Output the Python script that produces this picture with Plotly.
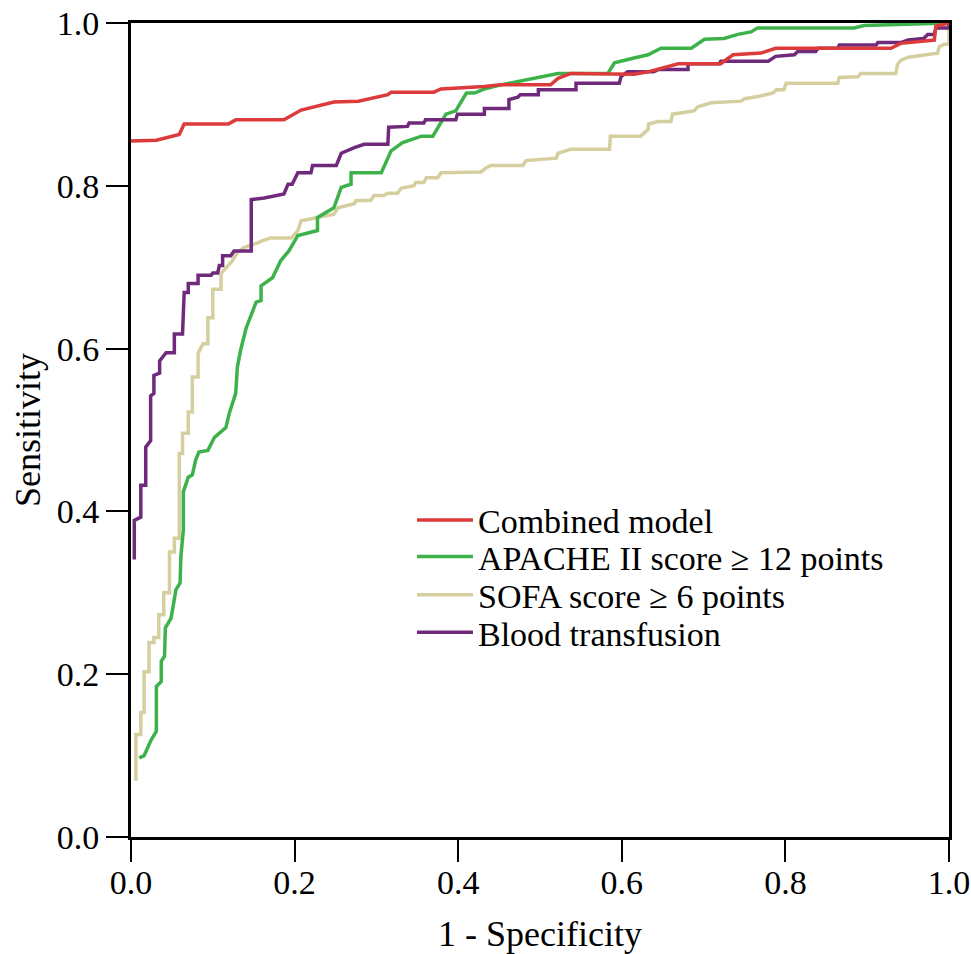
import plotly.graph_objects as go

# ROC curve vertices (1 - specificity, sensitivity)
combined_model = [
    (0.000, 0.855), (0.031, 0.856), (0.059, 0.863), (0.065, 0.876), (0.119, 0.876),
    (0.128, 0.881), (0.187, 0.881), (0.208, 0.893), (0.248, 0.903), (0.278, 0.904),
    (0.314, 0.912), (0.318, 0.915), (0.370, 0.915), (0.379, 0.919), (0.432, 0.922),
    (0.452, 0.924), (0.513, 0.924), (0.522, 0.932), (0.538, 0.938), (0.615, 0.937),
    (0.632, 0.940), (0.669, 0.950), (0.721, 0.950), (0.736, 0.961), (0.770, 0.963),
    (0.788, 0.969), (0.831, 0.969), (0.929, 0.969), (0.941, 0.975), (0.982, 0.979),
    (0.984, 0.996), (1.000, 1.000),
]

apache_ii = [
    (0.010, 0.097), (0.016, 0.100), (0.024, 0.118), (0.031, 0.130), (0.031, 0.185),
    (0.037, 0.191), (0.037, 0.216), (0.041, 0.222), (0.042, 0.257), (0.049, 0.269),
    (0.055, 0.304), (0.060, 0.312), (0.061, 0.345), (0.064, 0.377), (0.064, 0.424),
    (0.070, 0.442), (0.075, 0.445), (0.079, 0.463), (0.083, 0.473), (0.094, 0.475),
    (0.102, 0.491), (0.116, 0.503), (0.120, 0.520), (0.128, 0.545), (0.130, 0.577),
    (0.134, 0.598), (0.141, 0.626), (0.153, 0.657), (0.159, 0.659), (0.159, 0.677),
    (0.173, 0.687), (0.183, 0.708), (0.193, 0.720), (0.204, 0.739), (0.228, 0.745),
    (0.228, 0.761), (0.248, 0.773), (0.257, 0.798), (0.269, 0.802), (0.269, 0.816),
    (0.306, 0.816), (0.318, 0.843), (0.332, 0.853), (0.355, 0.861), (0.369, 0.861),
    (0.385, 0.888), (0.397, 0.892), (0.410, 0.914), (0.420, 0.914), (0.432, 0.919),
    (0.452, 0.924), (0.473, 0.928), (0.501, 0.934), (0.522, 0.938), (0.583, 0.938),
    (0.591, 0.951), (0.615, 0.957), (0.632, 0.961), (0.648, 0.969), (0.685, 0.969),
    (0.701, 0.980), (0.725, 0.981), (0.742, 0.986), (0.758, 0.989), (0.766, 0.994),
    (0.884, 0.994), (0.896, 0.997), (1.000, 1.000),
]

sofa = [
    (0.006, 0.069), (0.006, 0.126), (0.012, 0.126), (0.012, 0.153), (0.016, 0.153),
    (0.016, 0.203), (0.022, 0.203), (0.022, 0.239), (0.028, 0.239), (0.028, 0.245),
    (0.034, 0.245), (0.034, 0.273), (0.040, 0.273), (0.040, 0.300), (0.047, 0.300),
    (0.047, 0.350), (0.053, 0.350), (0.053, 0.367), (0.059, 0.367), (0.059, 0.471),
    (0.063, 0.471), (0.063, 0.496), (0.070, 0.496), (0.070, 0.522), (0.075, 0.522),
    (0.075, 0.565), (0.082, 0.565), (0.082, 0.594), (0.088, 0.606), (0.094, 0.606),
    (0.094, 0.638), (0.100, 0.638), (0.100, 0.673), (0.110, 0.673), (0.110, 0.692),
    (0.118, 0.702), (0.124, 0.708), (0.130, 0.718), (0.138, 0.724), (0.155, 0.730),
    (0.159, 0.732), (0.171, 0.736), (0.196, 0.736), (0.204, 0.745), (0.208, 0.757),
    (0.228, 0.761), (0.248, 0.765), (0.253, 0.773), (0.273, 0.778), (0.275, 0.782),
    (0.293, 0.782), (0.297, 0.788), (0.309, 0.788), (0.314, 0.791), (0.326, 0.791),
    (0.330, 0.797), (0.346, 0.800), (0.348, 0.804), (0.358, 0.804), (0.361, 0.810),
    (0.375, 0.810), (0.379, 0.816), (0.428, 0.817), (0.434, 0.822), (0.440, 0.825),
    (0.479, 0.825), (0.483, 0.831), (0.520, 0.834), (0.522, 0.840), (0.538, 0.845),
    (0.585, 0.845), (0.586, 0.861), (0.623, 0.861), (0.632, 0.869), (0.633, 0.876),
    (0.644, 0.879), (0.660, 0.879), (0.662, 0.888), (0.688, 0.892), (0.693, 0.897),
    (0.709, 0.902), (0.746, 0.904), (0.750, 0.907), (0.768, 0.910), (0.785, 0.914),
    (0.789, 0.918), (0.798, 0.918), (0.801, 0.926), (0.864, 0.926), (0.866, 0.933),
    (0.889, 0.934), (0.892, 0.938), (0.935, 0.938), (0.937, 0.949), (0.941, 0.954),
    (0.950, 0.958), (0.966, 0.960), (0.974, 0.961), (0.986, 0.963), (0.988, 0.971),
    (0.994, 0.974), (1.000, 0.974), (1.000, 1.000),
]

blood_transfusion = [
    (0.004, 0.341), (0.004, 0.389), (0.012, 0.393), (0.012, 0.432), (0.018, 0.432),
    (0.018, 0.479), (0.024, 0.487), (0.024, 0.542), (0.028, 0.545), (0.028, 0.567),
    (0.035, 0.570), (0.035, 0.585), (0.043, 0.595), (0.053, 0.595), (0.053, 0.618),
    (0.063, 0.618), (0.065, 0.669), (0.070, 0.669), (0.070, 0.680), (0.082, 0.680),
    (0.082, 0.690), (0.098, 0.690), (0.100, 0.693), (0.106, 0.693), (0.108, 0.702),
    (0.112, 0.702), (0.112, 0.714), (0.122, 0.714), (0.126, 0.720), (0.147, 0.720),
    (0.147, 0.783), (0.163, 0.785), (0.187, 0.790), (0.192, 0.802), (0.197, 0.802),
    (0.204, 0.816), (0.220, 0.816), (0.222, 0.825), (0.251, 0.825), (0.257, 0.840),
    (0.273, 0.847), (0.285, 0.851), (0.314, 0.851), (0.315, 0.872), (0.338, 0.873),
    (0.340, 0.877), (0.358, 0.877), (0.360, 0.881), (0.397, 0.881), (0.399, 0.888),
    (0.432, 0.888), (0.432, 0.895), (0.462, 0.895), (0.462, 0.906), (0.473, 0.909),
    (0.476, 0.912), (0.498, 0.912), (0.498, 0.918), (0.544, 0.918), (0.544, 0.926),
    (0.597, 0.926), (0.599, 0.934), (0.607, 0.940), (0.639, 0.940), (0.645, 0.943),
    (0.681, 0.943), (0.681, 0.950), (0.719, 0.950), (0.721, 0.953), (0.779, 0.953),
    (0.788, 0.959), (0.811, 0.961), (0.815, 0.965), (0.837, 0.965), (0.840, 0.969),
    (0.864, 0.969), (0.866, 0.973), (0.911, 0.973), (0.913, 0.976), (0.941, 0.976),
    (0.950, 0.979), (0.969, 0.981), (0.974, 0.986), (0.982, 0.986), (0.984, 0.994),
    (1.000, 0.994), (1.000, 1.000),
]

series_names = [
    "Combined model",
    "APACHE II score \u2265 12 points",
    "SOFA score \u2265 6 points",
    "Blood transfusion",
]
series_data = [combined_model, apache_ii, sofa, blood_transfusion]
series_colors = ["#DD3B3B", "#3DB24B", "#D5CF9F", "#6F2A7B"]
legend_ids = ["legend", "legend2", "legend3", "legend4"]

tick_values = [0.0, 0.2, 0.4, 0.6, 0.8, 1.0]
tick_labels = ["0.0", "0.2", "0.4", "0.6", "0.8", "1.0"]

FONT = "Liberation Serif"

fig = go.Figure()
# draw order so the red curve ends on top, as in the reference
order = [2, 1, 3, 0]
for i in order:
    xs = [p[0] for p in series_data[i]]
    ys = [p[1] for p in series_data[i]]
    fig.add_trace(go.Scatter(
        x=xs, y=ys, mode="lines", name=series_names[i],
        line=dict(color=series_colors[i], width=3.5),
        legend=legend_ids[i],
    ))

axis_common = dict(
    range=[0, 1],
    tickvals=tick_values,
    ticktext=tick_labels,
    ticks="outside",
    ticklen=22,
    tickwidth=2,
    tickcolor="black",
    showline=True,
    linecolor="black",
    linewidth=3,
    mirror=True,
    showgrid=False,
    zeroline=False,
    automargin=False,
    ticklabeloverflow="allow",
    tickfont=dict(family=FONT, size=34, color="black"),
)

legend_common = dict(
    xanchor="left", yanchor="middle",
    bgcolor="rgba(0,0,0,0)",
    font=dict(family=FONT, size=34, color="black"),
    itemwidth=56,
)
legend_x = 0.3435
legend_rows_y = [0.389, 0.344, 0.297, 0.251]

fig.update_layout(
    width=971,
    height=954,
    margin=dict(l=131, r=22, t=23, b=117),
    paper_bgcolor="white",
    plot_bgcolor="white",
    font=dict(family=FONT, color="black"),
    xaxis=dict(
        **axis_common,
        ticklabelstandoff=-9,
        title=dict(text="1 - Specificity", font=dict(family=FONT, size=36), standoff=24),
    ),
    yaxis=dict(
        **axis_common,
        title=dict(text="Sensitivity", font=dict(family=FONT, size=36), standoff=6),
    ),
    legend=dict(**legend_common, x=legend_x, y=legend_rows_y[0]),
    legend2=dict(**legend_common, x=legend_x, y=legend_rows_y[1]),
    legend3=dict(**legend_common, x=legend_x, y=legend_rows_y[2]),
    legend4=dict(**legend_common, x=legend_x, y=legend_rows_y[3]),
    showlegend=True,
)

# remove the browser's default 8px page margin so the figure fills the window
fig.write_html(
    "out.html",
    config={"displayModeBar": False},
    post_script="document.body.style.margin='0';document.body.style.overflow='hidden';",
)
